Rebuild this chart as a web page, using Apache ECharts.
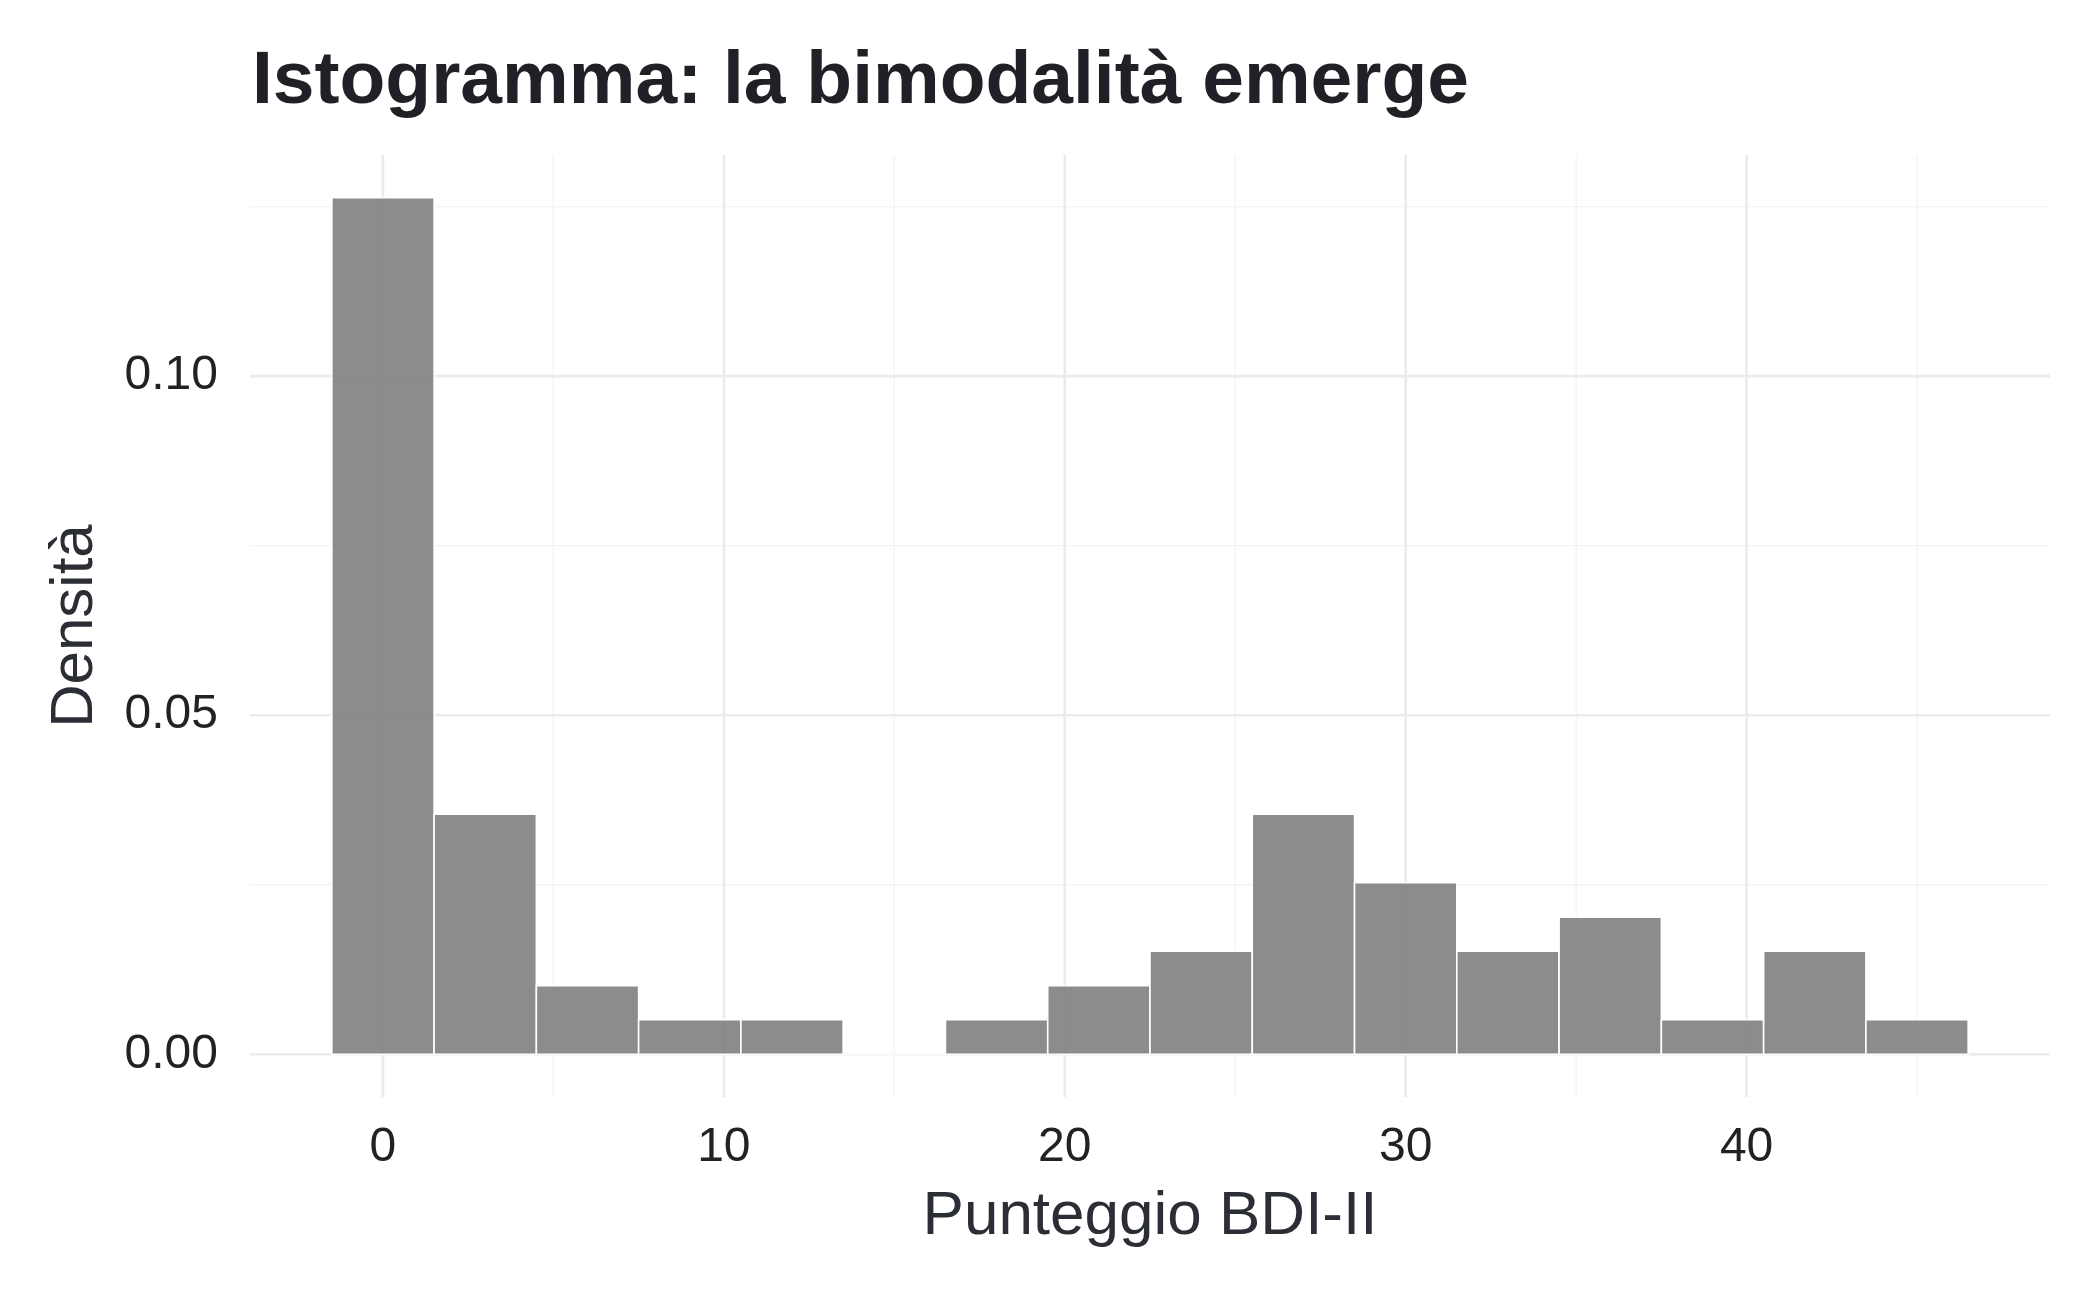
<!DOCTYPE html>
<html>
<head>
<meta charset="utf-8">
<script src="https://cdn.jsdelivr.net/npm/echarts@6/dist/echarts.min.js"></script>
<style>
html,body{margin:0;padding:0;background:#fff;}
#chart{width:2100px;height:1297px;}
</style>
</head>
<body>
<div id="chart"></div>
<script>
// ---- data ----
const binStarts = [-1.5, 1.5, 4.5, 7.5, 10.5, 13.5, 16.5, 19.5, 22.5, 25.5, 28.5, 31.5, 34.5, 37.5, 40.5, 43.5];
const binEnds   = [1.5, 4.5, 7.5, 10.5, 13.5, 16.5, 19.5, 22.5, 25.5, 28.5, 31.5, 34.5, 37.5, 40.5, 43.5, 46.5];
const densities = [0.1263, 0.0354, 0.0101, 0.0051, 0.0051, 0.0, 0.0051, 0.0101, 0.0152, 0.0354, 0.0253, 0.0152, 0.0202, 0.0051, 0.0152, 0.0051];
const xTickLabels = [0, 10, 20, 30, 40];
const xMinorTicks = [5, 15, 25, 35, 45];
const yTickLabels = [0, 0.05, 0.10];
const yMinorTicks = [0.025, 0.075, 0.125];

const xMin = -3.9, xMax = 48.9;
const yMin = -0.0063, yMax = 0.1326;

const chart = echarts.init(document.getElementById('chart'), null, {renderer: 'canvas'});

function vLines(width, color) {
  return function (params, api) {
    const v = api.value(0);
    const a = api.coord([v, yMin]);
    const b = api.coord([v, yMax]);
    return {type: 'line', shape: {x1: a[0], y1: a[1], x2: b[0], y2: b[1]},
            style: {stroke: color, lineWidth: width}};
  };
}
function hLines(width, color) {
  return function (params, api) {
    const v = api.value(0);
    const a = api.coord([xMin, v]);
    const b = api.coord([xMax, v]);
    return {type: 'line', shape: {x1: a[0], y1: a[1], x2: b[0], y2: b[1]},
            style: {stroke: color, lineWidth: width}};
  };
}

const barData = binStarts.map((s, i) => [s, binEnds[i], densities[i]]);

const FONT = '"Liberation Sans", Arial, Helvetica, sans-serif';

chart.setOption({
  animation: false,
  backgroundColor: '#ffffff',
  title: {
    text: 'Istogramma: la bimodalità emerge',
    left: 247,
    top: 40,
    textStyle: {fontFamily: FONT, fontWeight: 'bold', fontSize: 75, color: '#1f2126'}
  },
  grid: {left: 250, right: 50, top: 155, bottom: 200, containLabel: false},
  xAxis: {
    type: 'value', min: xMin, max: xMax,
    name: 'Punteggio BDI-II', nameLocation: 'middle', nameGap: 89,
    nameTextStyle: {fontFamily: FONT, fontSize: 62, color: '#2b2e35'},
    axisLine: {show: false}, axisTick: {show: false}, splitLine: {show: false},
    axisLabel: {customValues: xTickLabels, fontFamily: FONT, fontSize: 48, color: '#222222', margin: 27,
                formatter: v => String(Math.round(v))}
  },
  yAxis: {
    type: 'value', min: yMin, max: yMax,
    name: 'Densità', nameLocation: 'middle', nameGap: 145, nameRotate: 90,
    nameTextStyle: {fontFamily: FONT, fontSize: 60, color: '#2b2e35'},
    axisLine: {show: false}, axisTick: {show: false}, splitLine: {show: false},
    axisLabel: {customValues: yTickLabels, fontFamily: FONT, fontSize: 48, color: '#222222', margin: 32,
                formatter: v => v.toFixed(2)}
  },
  series: [
    {type: 'custom', renderItem: vLines(1.3, '#f3f3f3'), data: xMinorTicks.map(v => [v]), z: 1, silent: true},
    {type: 'custom', renderItem: hLines(1.3, '#f3f3f3'), data: yMinorTicks.map(v => [v]), z: 1, silent: true},
    {type: 'custom', renderItem: vLines(2.6, '#ebebeb'), data: xTickLabels.map(v => [v]), z: 2, silent: true},
    {type: 'custom', renderItem: hLines(2.6, '#ebebeb'), data: yTickLabels.map(v => [v]), z: 2, silent: true},
    {
      type: 'custom', z: 5,
      renderItem: function (params, api) {
        const x0 = api.value(0), x1 = api.value(1), y = api.value(2);
        const p0 = api.coord([x0, y]);
        const p1 = api.coord([x1, 0]);
        return {type: 'rect',
                shape: {x: p0[0], y: p0[1], width: p1[0] - p0[0], height: p1[1] - p0[1]},
                style: {fill: 'rgba(127,127,127,0.9)', stroke: '#ffffff', lineWidth: 1.6}};
      },
      encode: {x: [0, 1], y: 2},
      data: barData
    }
  ]
});
</script>
</body>
</html>
